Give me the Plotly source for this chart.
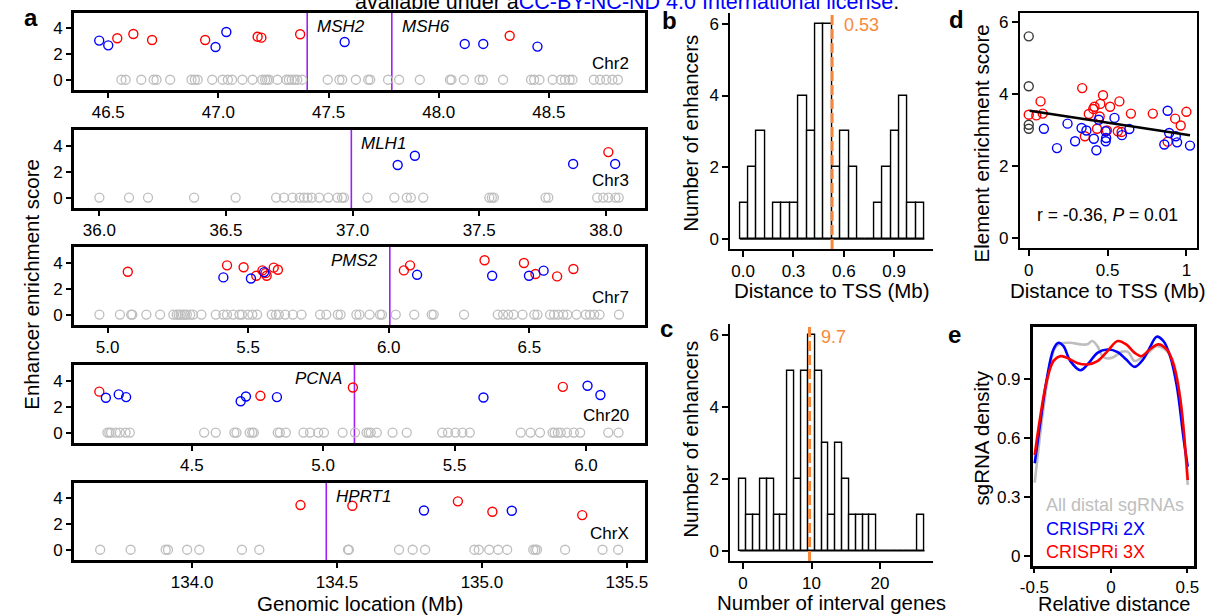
import numpy as np
import plotly.graph_objects as go

W, H = 1220, 616
FONT = "Liberation Sans, Arial, Helvetica, sans-serif"
RED = "#FF0000"
BLUE = "#0000FF"
GRAY = "#BEBEBE"
PURPLE = "#A020F0"
ORANGE = "#F7883A"
DARK = "#3A3A3A"

# ---------------- panel a: enhancer scores along each locus (Mb) ----------------
chr2_gray = [46.560, 46.579, 46.650, 46.706, 46.719, 46.781, 46.878, 46.893, 46.906, 46.972,
             47.019, 47.043, 47.062, 47.109, 47.155, 47.199, 47.212, 47.221, 47.230, 47.268,
             47.309, 47.320, 47.333, 47.346, 47.358, 47.380, 47.496, 47.549, 47.562, 47.624,
             47.680, 47.689, 47.770, 47.820, 47.914, 48.051, 48.058, 48.114, 48.185, 48.200,
             48.292, 48.419, 48.433, 48.457, 48.517, 48.554, 48.573, 48.594, 48.607, 48.704,
             48.732, 48.760, 48.788, 48.813]
chr2_red_x = [46.541, 46.614, 46.699, 46.940, 47.178, 47.195, 47.371, 48.322]
chr2_red_y = [3.23, 3.56, 3.10, 3.10, 3.35, 3.28, 3.54, 3.43]
chr2_blue_x = [46.459, 46.500, 46.987, 47.036, 47.573, 48.118, 48.202, 48.448]
chr2_blue_y = [3.05, 2.68, 2.55, 3.72, 2.94, 2.79, 2.79, 2.58]
chr2_genes = ["MSH2", "MSH6"]
chr2_gene_pos = [47.403, 47.787]

chr3_gray = [36.000, 36.117, 36.192, 36.374, 36.538, 36.698, 36.729, 36.763, 36.791, 36.808,
             36.822, 36.839, 36.868, 36.904, 36.940, 36.958, 36.966, 37.059, 37.165, 37.214,
             37.230, 37.279, 37.540, 37.550, 37.558, 37.762, 37.773, 37.966, 37.990, 38.010,
             38.038, 38.051]
chr3_red_x = [38.010]
chr3_red_y = [3.50]
chr3_blue_x = [37.178, 37.246, 37.871, 38.037]
chr3_blue_y = [2.51, 3.22, 2.59, 2.59]
chr3_genes = ["MLH1"]
chr3_gene_pos = [36.995]

chr7_gray = [4.971, 5.044, 5.084, 5.088, 5.138, 5.187, 5.234, 5.246, 5.253, 5.260, 5.268,
             5.275, 5.282, 5.294, 5.304, 5.334, 5.385, 5.412, 5.425, 5.447, 5.469, 5.478,
             5.500, 5.515, 5.532, 5.584, 5.599, 5.609, 5.632, 5.659, 5.690, 5.756, 5.778,
             5.819, 5.829, 5.885, 5.896, 5.932, 5.969, 5.976, 6.025, 6.091, 6.153, 6.160,
             6.268, 6.388, 6.407, 6.425, 6.444, 6.476, 6.518, 6.529, 6.574, 6.588, 6.603,
             6.621, 6.635, 6.668, 6.701, 6.716, 6.731, 6.750, 6.819]
chr7_red_x = [5.072, 5.425, 5.484, 5.529, 5.551, 5.562, 5.566, 5.591, 5.606, 6.054, 6.076,
              6.341, 6.481, 6.522, 6.599, 6.657]
chr7_red_y = [3.30, 3.79, 3.64, 2.99, 3.40, 3.19, 2.99, 3.61, 3.45, 3.40, 3.79,
              4.18, 3.97, 3.12, 2.94, 3.51]
chr7_blue_x = [5.412, 5.510, 5.557, 6.101, 6.368, 6.499, 6.551]
chr7_blue_y = [2.86, 2.78, 3.27, 3.06, 2.99, 2.99, 3.38]
chr7_genes = ["PMS2"]
chr7_gene_pos = [6.004]

chr20_gray = [4.179, 4.186, 4.193, 4.211, 4.226, 4.248, 4.264, 4.547, 4.591, 4.662, 4.670,
              4.720, 4.730, 4.736, 4.827, 4.835, 4.858, 4.925, 4.950, 4.981, 5.003, 5.074,
              5.121, 5.165, 5.173, 5.181, 5.204, 5.264, 5.318, 5.453, 5.475, 5.503, 5.530,
              5.558, 5.752, 5.789, 5.825, 5.873, 5.881, 5.893, 5.904, 5.928, 5.954, 5.978,
              6.085, 6.124]
chr20_red_x = [4.148, 4.761, 5.113, 5.912]
chr20_red_y = [3.15, 2.83, 3.47, 3.52]
chr20_blue_x = [4.173, 4.222, 4.250, 4.686, 4.706, 4.824, 5.610, 6.006, 6.055]
chr20_blue_y = [2.68, 2.94, 2.73, 2.41, 2.78, 2.73, 2.70, 3.60, 2.89]
chr20_genes = ["PCNA"]
chr20_gene_pos = [5.119]

chrx_gray = [133.683, 133.788, 133.909, 133.917, 133.983, 134.025, 134.172, 134.232, 134.538,
             134.541, 134.714, 134.761, 134.804, 134.974, 134.989, 135.025, 135.056, 135.087,
             135.177, 135.184, 135.190, 135.287, 135.416, 135.470]
chrx_red_x = [134.374, 134.553, 134.917, 135.036, 135.346]
chrx_red_y = [3.48, 3.43, 3.77, 2.96, 2.70]
chrx_blue_x = [134.800, 135.103]
chrx_blue_y = [3.06, 3.04]
chrx_genes = ["HPRT1"]
chrx_gene_pos = [134.463]

chrom_names = ["Chr2", "Chr3", "Chr7", "Chr20", "ChrX"]
chrom_ticks = [[46.5, 47.0, 47.5, 48.0, 48.5],
               [36.0, 36.5, 37.0, 37.5, 38.0],
               [5.0, 5.5, 6.0, 6.5],
               [4.5, 5.0, 5.5, 6.0],
               [134.0, 134.5, 135.0, 135.5]]
score_ticks = [0, 2, 4]

# ---------------- panel b: distance to TSS histogram ----------------
tss_bin_start = -0.02
tss_bin_width = 0.05
tss_counts = [1, 2, 3, 0, 1, 1, 1, 4, 3, 6, 6, 2, 3, 2, 0, 0, 1, 2, 3, 4, 1, 1]
tss_median = 0.53

# ---------------- panel c: interval gene histogram ----------------
gene_bin_start = -0.5
gene_bin_width = 1.0
gene_counts = [2, 1, 1, 2, 2, 1, 1, 5, 2, 5, 6, 5, 3, 1, 3, 2, 1, 1, 1, 1, 0, 0, 0, 0, 0, 0, 1]
gene_median = 9.7

# ---------------- panel d: element score vs distance ----------------
prom_x = [0.0, 0.0, 0.0, 0.0]
prom_y = [5.61, 4.22, 3.15, 3.04]
d_red_x = [0.0, 0.048, 0.075, 0.089, 0.339, 0.356, 0.381, 0.409, 0.417, 0.433, 0.450, 0.454,
           0.471, 0.496, 0.516, 0.565, 0.575, 0.589, 0.648, 0.787, 0.881, 0.929, 0.964, 1.0]
d_red_y = [3.43, 3.41, 3.80, 3.46, 4.17, 2.83, 3.45, 3.59, 3.65, 3.04, 3.38, 3.73,
           3.97, 2.99, 3.65, 2.97, 3.80, 2.95, 3.46, 3.46, 2.68, 3.32, 3.13, 3.51]
d_blue_x = [0.096, 0.179, 0.246, 0.294, 0.335, 0.366, 0.413, 0.429, 0.444, 0.488, 0.491,
            0.488, 0.544, 0.591, 0.638, 0.881, 0.891, 0.860, 0.941, 0.933, 1.023]
d_blue_y = [3.04, 2.50, 3.18, 2.69, 3.06, 2.99, 2.76, 2.44, 3.29, 2.97, 2.78,
            2.69, 3.34, 2.86, 3.03, 3.54, 2.92, 2.60, 2.66, 2.83, 2.57]
trend_x = [0.006, 1.023]
trend_y = [3.54, 2.86]
corr_text = "r = -0.36, <i>P</i> = 0.01"

# ---------------- panel e: sgRNA density profiles ----------------
all_x = [-0.498, -0.442, -0.398, -0.365, -0.332, -0.265, -0.199, -0.155, -0.122, -0.088, -0.055,
         -0.022, 0.022, 0.066, 0.111, 0.155, 0.199, 0.243, 0.299, 0.354, 0.398, 0.431, 0.465, 0.502]
all_y = [0.374, 0.744, 0.964, 1.058, 1.078, 1.083, 1.075, 1.075, 1.092, 1.066, 1.015,
         1.003, 1.012, 1.036, 1.037, 0.990, 1.007, 1.032, 1.066, 1.049, 1.007, 0.913, 0.710, 0.362]
c2x_x = [-0.498, -0.465, -0.420, -0.376, -0.343, -0.310, -0.265, -0.199, -0.144, -0.088, -0.022,
         0.044, 0.100, 0.155, 0.210, 0.254, 0.299, 0.343, 0.387, 0.431, 0.476, 0.502]
c2x_y = [0.472, 0.659, 0.896, 1.049, 1.083, 1.066, 0.990, 0.944, 0.981, 1.032, 1.049,
         1.036, 0.998, 0.961, 0.998, 1.058, 1.114, 1.092, 1.015, 0.862, 0.591, 0.455]
c3x_x = [-0.498, -0.465, -0.420, -0.376, -0.332, -0.288, -0.221, -0.155, -0.088, -0.022, 0.044,
         0.100, 0.155, 0.199, 0.254, 0.310, 0.365, 0.409, 0.454, 0.502]
c3x_y = [0.514, 0.693, 0.888, 0.990, 1.015, 1.007, 0.981, 0.973, 0.990, 1.041, 1.092,
         1.075, 1.032, 1.015, 1.049, 1.075, 1.049, 0.973, 0.795, 0.387]
legend_labels = ["All distal sgRNAs", "CRISPRi 2X", "CRISPRi 3X"]


def fx(p):
    return p / W


def fy(p):
    return 1 - p / H


def axis(**kw):
    base = dict(showgrid=False, zeroline=False, showline=True, linecolor="black",
                linewidth=2, ticks="outside", ticklen=6, tickwidth=1.5, tickcolor="black",
                tickfont=dict(family=FONT, size=17, color="black"), layer="above traces")
    base.update(kw)
    return base


fig = go.Figure()
layout = {}
annotations = []
shapes = []


def ax_name(i):
    return "x" if i == 1 else f"x{i}"


def ay_name(i):
    return "y" if i == 1 else f"y{i}"


def lay_x(i):
    return "xaxis" if i == 1 else f"xaxis{i}"


def lay_y(i):
    return "yaxis" if i == 1 else f"yaxis{i}"


# panel a layout: five stacked boxed tracks
row_tops = [13, 130, 247, 365, 483]
row_bots = [90, 208, 325, 443, 560]
row_xr = [[46.345, 48.934], [35.900, 38.153], [4.881, 6.910], [4.052, 6.223], [133.593, 135.561]]
gene_side = [["left", "left"], ["left"], ["right"], ["right"], ["left"]]

tracks = [
    (chr2_gray, chr2_red_x, chr2_red_y, chr2_blue_x, chr2_blue_y, chr2_genes, chr2_gene_pos),
    (chr3_gray, chr3_red_x, chr3_red_y, chr3_blue_x, chr3_blue_y, chr3_genes, chr3_gene_pos),
    (chr7_gray, chr7_red_x, chr7_red_y, chr7_blue_x, chr7_blue_y, chr7_genes, chr7_gene_pos),
    (chr20_gray, chr20_red_x, chr20_red_y, chr20_blue_x, chr20_blue_y, chr20_genes, chr20_gene_pos),
    (chrx_gray, chrx_red_x, chrx_red_y, chrx_blue_x, chrx_blue_y, chrx_genes, chrx_gene_pos),
]

for k, (gx, rx, ry, bx, by, gnames, gpos) in enumerate(tracks):
    i = k + 1
    xa, ya = ax_name(i), ay_name(i)
    layout[lay_x(i)] = axis(domain=[fx(62), fx(641)], range=row_xr[k], anchor=ya,
                            mirror=True, linewidth=3, tickvals=chrom_ticks[k],
                            tickformat=".1f", ticklen=5)
    layout[lay_y(i)] = axis(domain=[fy(row_bots[k]), fy(row_tops[k])], range=[-0.8, 5.2],
                            anchor=xa, mirror=True, linewidth=3, tickvals=score_ticks,
                            ticklen=5)
    for g, side in zip(gpos, gene_side[k]):
        shapes.append(dict(type="line", xref=xa, yref=f"{ya} domain", x0=g, x1=g, y0=0, y1=1,
                           line=dict(color=PURPLE, width=1.6), layer="below"))
    for name, g, side in zip(gnames, gpos, gene_side[k]):
        annotations.append(dict(x=g, y=4.15, xref=xa, yref=ya, text=f"<i>{name}</i>",
                                showarrow=False, xanchor=side, yanchor="middle",
                                xshift=8 if side == "left" else -10,
                                font=dict(family=FONT, size=17, color="black")))
    annotations.append(dict(x=0.977, y=1.3, xref=f"{xa} domain", yref=ya, text=chrom_names[k],
                            showarrow=False, xanchor="right", yanchor="middle",
                            font=dict(family=FONT, size=17, color="black")))
    fig.add_trace(go.Scatter(x=gx, y=[0] * len(gx), xaxis=xa, yaxis=ya, mode="markers",
                             marker=dict(symbol="circle-open", size=9, color=GRAY,
                                         line=dict(width=1.3)), cliponaxis=False,
                             showlegend=False, hoverinfo="skip"))
    fig.add_trace(go.Scatter(x=rx, y=ry, xaxis=xa, yaxis=ya, mode="markers",
                             marker=dict(symbol="circle-open", size=9, color=RED,
                                         line=dict(width=1.4)), showlegend=False))
    fig.add_trace(go.Scatter(x=bx, y=by, xaxis=xa, yaxis=ya, mode="markers",
                             marker=dict(symbol="circle-open", size=9, color=BLUE,
                                         line=dict(width=1.4)), showlegend=False))


def add_hist(i, start, width, counts, med, med_label, xr, yr, xdom, ydom, xticks, xtext):
    xa, ya = ax_name(i), ay_name(i)
    n = len(counts)
    centers = [start + width * (j + 0.5) for j in range(n)]
    fig.add_trace(go.Bar(x=centers, y=counts, width=width, xaxis=xa, yaxis=ya,
                         marker=dict(color="white", line=dict(color="black", width=1.4)),
                         showlegend=False))
    edges = [start, start + width * n]
    fig.add_trace(go.Scatter(x=edges, y=[0, 0], xaxis=xa, yaxis=ya, mode="lines",
                             line=dict(color="black", width=1.4), showlegend=False,
                             hoverinfo="skip"))
    shapes.append(dict(type="line", xref=xa, yref=f"{ya} domain", x0=med, x1=med, y0=0, y1=1,
                       line=dict(color=ORANGE, width=3, dash="10px,4px"), layer="above"))
    annotations.append(dict(x=med, y=5.96, xref=xa, yref=ya, text=med_label, showarrow=False,
                            xanchor="left", yanchor="middle", xshift=10,
                            font=dict(family=FONT, size=18, color=ORANGE)))
    layout[lay_x(i)] = axis(domain=xdom, range=xr, anchor=ya, tickvals=xticks, ticktext=xtext)
    layout[lay_y(i)] = axis(domain=ydom, range=yr, anchor=xa, tickvals=[0, 2, 4, 6])


add_hist(6, tss_bin_start, tss_bin_width, tss_counts, tss_median, f"{tss_median:.2f}",
         [-0.077, 1.133], [-0.279, 6.30], [fx(728), fx(934)], [fy(249), fy(13)],
         [0, 0.3, 0.6, 0.9], ["0.0", "0.3", "0.6", "0.9"])
add_hist(7, gene_bin_start, gene_bin_width, gene_counts, gene_median, f"{gene_median:.1f}",
         [-1.87, 27.77], [-0.287, 6.31], [fx(728), fx(934)], [fy(561), fy(324)],
         [0, 10, 20], ["0", "10", "20"])

# panel d
fig.add_trace(go.Scatter(x=prom_x, y=prom_y, xaxis="x8", yaxis="y8", mode="markers",
                         marker=dict(symbol="circle-open", size=9, color=DARK, line=dict(width=1.4)),
                         showlegend=False))
fig.add_trace(go.Scatter(x=d_red_x, y=d_red_y, xaxis="x8", yaxis="y8", mode="markers",
                         marker=dict(symbol="circle-open", size=9, color=RED, line=dict(width=1.4)),
                         showlegend=False))
fig.add_trace(go.Scatter(x=d_blue_x, y=d_blue_y, xaxis="x8", yaxis="y8", mode="markers",
                         marker=dict(symbol="circle-open", size=9, color=BLUE, line=dict(width=1.4)),
                         showlegend=False))
fig.add_trace(go.Scatter(x=trend_x, y=trend_y, xaxis="x8", yaxis="y8", mode="lines",
                         line=dict(color="black", width=2.5), showlegend=False))
layout["xaxis8"] = axis(domain=[fx(1022), fx(1202)], range=[-0.056, 1.069], anchor="y8",
                        mirror=True, tickvals=[0, 0.5, 1], ticktext=["0", "0.5", "1"])
layout["yaxis8"] = axis(domain=[fy(248), fy(13)], range=[-0.28, 6.26], anchor="x8",
                        mirror=True, tickvals=[0, 2, 4, 6])
annotations.append(dict(x=fx(1111), y=fy(215), xref="paper", yref="paper", text=corr_text,
                        showarrow=False, xanchor="center", yanchor="middle",
                        font=dict(family=FONT, size=17.5, color="black")))

# panel e
for xs, ys, col in [(all_x, all_y, GRAY), (c2x_x, c2x_y, BLUE), (c3x_x, c3x_y, RED)]:
    fig.add_trace(go.Scatter(x=xs, y=ys, xaxis="x9", yaxis="y9", mode="lines",
                             line=dict(color=col, width=2.6, shape="spline", smoothing=1.0),
                             showlegend=False))
layout["xaxis9"] = axis(domain=[fx(1035), fx(1199)], range=[-0.511, 0.545], anchor="y9",
                        mirror=True, linewidth=2.5, tickvals=[-0.5, 0, 0.5], ticklen=4,
                        ticktext=["-0.5", "0", "0.5"])
layout["yaxis9"] = axis(domain=[fy(566), fy(327)], range=[-0.049, 1.163], anchor="x9",
                        mirror=True, linewidth=2.5, tickvals=[0, 0.3, 0.6, 0.9],
                        ticktext=["0", "0.3", "0.6", "0.9"])
for lab, col, py in zip(legend_labels, [GRAY, BLUE, RED], [505, 529, 552]):
    annotations.append(dict(x=fx(1046), y=fy(py), xref="paper", yref="paper", text=lab,
                            showarrow=False, xanchor="left", yanchor="middle",
                            font=dict(family=FONT, size=18, color=col)))

# axis titles
titles = [
    ("Genomic location (Mb)", 352, 603, 0, 20.5),
    ("Enhancer enrichment score", 18, 284, -90, 20.5),
    ("Distance to TSS (Mb)", 831, 290, 0, 20.5),
    ("Number of enhancers", 687, 133, -90, 20.5),
    ("Number of interval genes", 831, 602, 0, 20.5),
    ("Number of enhancers", 687, 439, -90, 20.5),
    ("Distance to TSS (Mb)", 1111, 290, 0, 20.5),
    ("Element enrichment score", 983, 143, -90, 20.5),
    ("Relative distance", 1117, 604, 0, 20),
    ("sgRNA density", 983, 438, -90, 20.5),
]
for txt, px_, py_, ang, fs in titles:
    annotations.append(dict(x=fx(px_), y=fy(py_), xref="paper", yref="paper", text=txt,
                            showarrow=False, xanchor="center", yanchor="middle", textangle=ang,
                            font=dict(family=FONT, size=fs, color="black")))

# panel letters
for letter, px_, py_ in [("a", 18, 17), ("b", 666, 21), ("c", 663, 328), ("d", 958, 20),
                         ("e", 956, 335)]:
    annotations.append(dict(x=fx(px_), y=fy(py_), xref="paper", yref="paper",
                            text=f"<b>{letter}</b>", showarrow=False, xanchor="center",
                            yanchor="middle", font=dict(family=FONT, size=24, color="black")))

# licence line along the top edge
annotations.append(dict(x=fx(901), y=fy(2), xref="paper", yref="paper",
                        text='available under a<span style="color:#0000FF">CC-BY-NC-ND 4.0 '
                             'International license</span>.',
                        showarrow=False, xanchor="right", yanchor="middle",
                        font=dict(family=FONT, size=21.5, color="black")))

fig.update_layout(
    width=W, height=H,
    margin=dict(l=0, r=0, t=0, b=0),
    paper_bgcolor="white", plot_bgcolor="white",
    font=dict(family=FONT, color="black"),
    showlegend=False, bargap=0,
    annotations=annotations, shapes=shapes,
    **layout,
)

fig.write_html("out.html")
